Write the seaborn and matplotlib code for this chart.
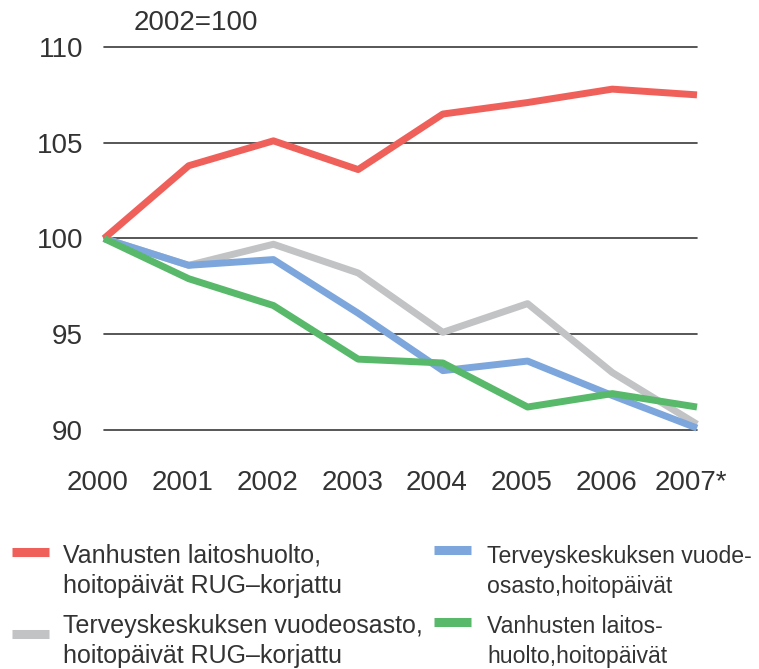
"""Hoitopäivien kehitys 2000-2007 (indeksi 2002=100)."""
import matplotlib
matplotlib.use('Agg')
import matplotlib.pyplot as plt
import matplotlib.transforms as mtransforms
from matplotlib.lines import Line2D
import seaborn as sns
import pandas as pd

years = [2000, 2001, 2002, 2003, 2004, 2005, 2006, 2007]
year_labels = ['2000', '2001', '2002', '2003', '2004', '2005', '2006', '2007*']
y_ticks = [90, 95, 100, 105, 110]

vanhusten_rug = [100, 103.8, 105.1, 103.6, 106.5, 107.1, 107.8, 107.5]
tk_vuode_rug = [100, 98.6, 99.7, 98.2, 95.1, 96.6, 93.0, 90.3]
tk_vuode = [100, 98.6, 98.9, 96.1, 93.1, 93.6, 91.8, 90.1]
vanhusten = [100, 97.9, 96.5, 93.7, 93.5, 91.2, 91.9, 91.2]

labels = {
    'red': 'Vanhusten laitoshuolto,\nhoitopäivät RUG\u2013korjattu',
    'gray': 'Terveyskeskuksen vuodeosasto,\nhoitopäivät RUG\u2013korjattu',
    'blue': 'Terveyskeskuksen vuode-\nosasto,hoitopäivät',
    'green': 'Vanhusten laitos-\nhuolto,hoitopäivät',
}
colors = {'red': '#f0605a', 'gray': '#c2c3c5', 'blue': '#7da7dc', 'green': '#58b96a'}

df = pd.concat([
    pd.DataFrame({'year': years, 'value': tk_vuode_rug, 'series': 'gray'}),
    pd.DataFrame({'year': years, 'value': tk_vuode, 'series': 'blue'}),
    pd.DataFrame({'year': years, 'value': vanhusten_rug, 'series': 'red'}),
    pd.DataFrame({'year': years, 'value': vanhusten, 'series': 'green'}),
])

W, H = 759, 669
sns.set_style('white')
plt.rcParams['font.family'] = ['Liberation Sans', 'DejaVu Sans']
txt = '#333333'

fig = plt.figure(figsize=(W / 100, H / 100), dpi=100)
ax = fig.add_axes([104 / W, 1 - 430 / H, (697 - 104) / W, (430 - 47) / H])

sns.lineplot(data=df, x='year', y='value', hue='series',
             hue_order=['gray', 'blue', 'red', 'green'], palette=colors,
             linewidth=5, legend=False, ax=ax)
for line in ax.lines:
    line.set_clip_on(False)
    line.set_solid_capstyle('butt')

ax.set_xlim(2000, 2007)
ax.set_ylim(90, 110)
ax.set_yticks(y_ticks)
ax.set_xticks(years)
ax.set_xticklabels(year_labels)
for y in y_ticks:
    ax.axhline(y, color='#3a3a3a', lw=1.2, zorder=0, clip_on=False)
ax.tick_params(axis='both', length=0, labelsize=20, colors=txt)
ax.tick_params(axis='y', pad=15)
ax.tick_params(axis='x', pad=29)
# labels in the original sit a little left of the data positions
shift = mtransforms.ScaledTranslation(-6 / 100, 0, fig.dpi_scale_trans)
for lab in ax.get_xticklabels():
    lab.set_transform(lab.get_transform() + shift)
ax.set_xlabel('')
ax.set_ylabel('')
sns.despine(ax=ax, left=True, bottom=True)

fig.text(134 / W, 1 - 23 / H, '2002=100', fontsize=20, va='center', ha='left', color=txt)

# legend, two columns, drawn by hand to keep the original spacing
legend_items = [
    ('red', 12, 552, 63, 563, 18),
    ('gray', 12, 634, 63, 633, 18),
    ('blue', 434, 550, 487, 563, 16.6),
    ('green', 434, 622, 487, 633, 16.6),
]
for key, hx, hy, tx, ty, fs in legend_items:
    fig.add_artist(Line2D([hx / W, (hx + 37) / W], [1 - hy / H, 1 - hy / H],
                          transform=fig.transFigure, color=colors[key],
                          lw=6.5, solid_capstyle='butt'))
    for i, part in enumerate(labels[key].split('\n')):
        fig.text(tx / W, 1 - (ty + 29.5 * i) / H, part, fontsize=fs,
                 va='baseline', ha='left', color=txt)

fig.savefig('out.png', dpi=100)
